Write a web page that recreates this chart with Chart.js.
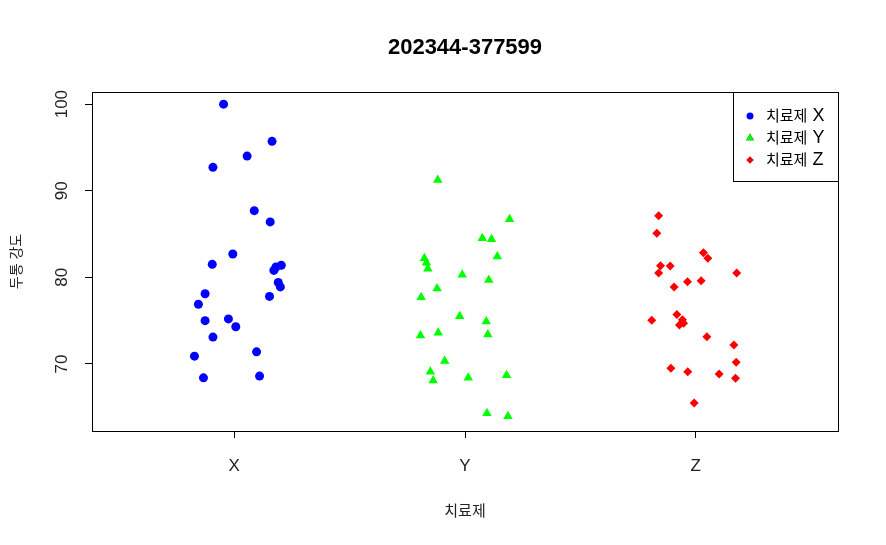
<!DOCTYPE html>
<html>
<head>
<meta charset="utf-8">
<script src="https://cdn.jsdelivr.net/npm/chart.js@4"></script>
<style>
  html, body { margin: 0; padding: 0; background: #fff; }
  #wrap { width: 886px; height: 545px; }
</style>
</head>
<body>
<div id="wrap"><canvas id="chart" width="886" height="545"></canvas></div>
<script>
const FONT = '"Liberation Sans", Arial, "Noto Sans CJK KR", sans-serif';

const chartTitle = '202344-377599';
const xTitle = '치료제';
const yTitle = '두통 강도';
const groups = ['X', 'Y', 'Z'];
const legendPrefix = '치료제';
const legendLabels = ['치료제 X', '치료제 Y', '치료제 Z'];
const yTicks = [70, 80, 90, 100];

// values, with the horizontal jitter of each point
const valuesX = [100.0, 95.7, 94.0, 92.7, 87.7, 86.4, 82.7, 81.5, 81.2, 81.4, 80.8, 79.4,
                 78.9, 78.1, 77.8, 76.9, 75.0, 75.2, 74.3, 73.1, 70.9, 71.4, 68.4, 68.6];
const jitterX = [-0.046, 0.164, 0.056, -0.092, 0.087, 0.156, -0.006, -0.095, 0.181, 0.204, 0.172, 0.191,
                 0.2, -0.126, 0.153, -0.155, -0.126, -0.025, 0.007, -0.092, -0.172, 0.097, -0.133, 0.110];

const valuesY = [91.25, 86.7, 84.5, 84.4, 82.4, 82.2, 81.7, 81.0, 80.3, 79.7, 78.7, 77.7,
                 75.5, 74.9, 73.3, 73.6, 73.4, 70.35, 69.1, 68.1, 68.4, 68.7, 64.3, 63.96];
const jitterY = [-0.118, 0.193, 0.075, 0.115, 0.140, -0.176, -0.167, -0.161, -0.012, 0.103, -0.121, -0.190,
                 -0.023, 0.092, -0.193, -0.116, 0.099, -0.088, -0.150, -0.138, 0.014, 0.18, 0.095, 0.186];

const valuesZ = [87.1, 85.1, 82.85, 82.2, 81.35, 81.3, 80.5, 80.5, 79.5, 79.6, 78.9, 75.05,
                 75.7, 75.1, 74.7, 74.5, 73.15, 72.2, 70.2, 69.5, 69.1, 68.85, 68.35, 65.5];
const jitterZ = [-0.161, -0.169, 0.033, 0.052, -0.153, -0.111, -0.161, 0.177, -0.036, 0.023, -0.094, -0.191,
                 -0.082, -0.058, -0.053, -0.071, 0.048, 0.165, 0.175, -0.108, -0.035, 0.101, 0.172, -0.007];

const colors = ['#0000FF', '#00FF00', '#FF0000'];
const styles = ['circle', 'triangle', 'rectRot'];
const radii = [4.5, 5.5, 4.5];

const toPoints = function (pos, values, jitter) {
    return values.map(function (v, i) {
        return { x: pos + jitter[i], y: v };
    });
};

const series = [
    toPoints(1, valuesX, jitterX),
    toPoints(2, valuesY, jitterY),
    toPoints(3, valuesZ, jitterZ)
];

const datasets = series.map(function (pts, i) {
    return {
        label: legendLabels[i],
        data: pts,
        backgroundColor: colors[i],
        borderColor: colors[i],
        borderWidth: 0,
        pointStyle: styles[i],
        pointRadius: radii[i],
        pointHoverRadius: radii[i]
    };
});

// R style decorations: box, title, axis titles, vertical y labels, legend
const rDecor = {
    id: 'rDecor',
    afterDraw: function (chart) {
        const ctx = chart.ctx;
        const a = chart.chartArea;
        const ys = chart.scales.y;
        ctx.save();
        ctx.strokeStyle = '#000';
        ctx.lineWidth = 1;
        ctx.strokeRect(Math.round(a.left) + 0.5, Math.round(a.top) + 0.5,
            Math.round(a.right - a.left), Math.round(a.bottom - a.top));

        ctx.fillStyle = '#000';
        ctx.textAlign = 'center';
        ctx.textBaseline = 'middle';
        ctx.font = 'bold 22px ' + FONT;
        ctx.fillText(chartTitle, (a.left + a.right) / 2, 48);

        ctx.font = '15px ' + FONT;
        ctx.fillStyle = '#222';
        ctx.fillText(xTitle, (a.left + a.right) / 2, 512);

        ctx.save();
        ctx.translate(17, (a.top + a.bottom) / 2);
        ctx.rotate(-Math.PI / 2);
        ctx.font = '14px ' + FONT;
        ctx.fillText(yTitle, 0, 0);
        ctx.restore();

        ctx.fillStyle = '#222';
        ctx.font = '17px ' + FONT;
        yTicks.forEach(function (t) {
            ctx.save();
            ctx.translate(62, ys.getPixelForValue(t));
            ctx.rotate(-Math.PI / 2);
            ctx.fillText(String(t), 0, 0);
            ctx.restore();
        });

        // legend box
        const lx = 733, ly = Math.round(a.top);
        const lw = Math.round(a.right) - lx, lh = 89;
        ctx.fillStyle = '#fff';
        ctx.fillRect(lx + 0.5, ly + 0.5, lw, lh);
        ctx.strokeStyle = '#000';
        ctx.strokeRect(lx + 0.5, ly + 0.5, lw, lh);
        ctx.textAlign = 'left';
        legendLabels.forEach(function (lab, i) {
            const cy = ly + 24 + i * 22;
            Chart.helpers.drawPoint(ctx, {
                pointStyle: styles[i],
                radius: radii[i] - 1,
                borderWidth: 0
            }, 750, cy);
            ctx.fillStyle = colors[i];
            ctx.fill();
            ctx.fillStyle = '#000';
            ctx.font = '15px ' + FONT;
            ctx.fillText(legendPrefix, 766, cy + 1);
            const w = ctx.measureText(legendPrefix).width;
            ctx.font = '18px ' + FONT;
            ctx.fillText(lab.slice(legendPrefix.length + 1), 766 + w + 5, cy);
        });
        ctx.restore();
    }
};

new Chart(document.getElementById('chart'), {
    type: 'scatter',
    data: { datasets: datasets },
    plugins: [rDecor],
    options: {
        responsive: false,
        animation: false,
        events: [],
        layout: { padding: { top: 92, right: 48, left: 0, bottom: 0 } },
        plugins: {
            legend: { display: false },
            title: { display: false },
            tooltip: { enabled: false }
        },
        scales: {
            x: {
                type: 'linear',
                min: 0.384,
                max: 3.616,
                afterFit: function (s) { s.height = 114; },
                afterBuildTicks: function (s) {
                    s.ticks = groups.map(function (g, i) { return { value: i + 1 }; });
                },
                grid: { display: true, drawOnChartArea: false, drawTicks: true, tickLength: 7, color: '#000' },
                border: { display: true, color: '#000' },
                ticks: {
                    color: '#222',
                    padding: 18,
                    font: { family: FONT, size: 17 },
                    callback: function (v) { return groups[Math.round(v) - 1]; }
                }
            },
            y: {
                type: 'linear',
                min: 62.26,
                max: 101.4,
                afterFit: function (s) { s.width = 92; },
                afterBuildTicks: function (s) {
                    s.ticks = yTicks.map(function (t) { return { value: t }; });
                },
                grid: { display: true, drawOnChartArea: false, drawTicks: true, tickLength: 7, color: '#000' },
                border: { display: true, color: '#000' },
                ticks: { display: false }
            }
        }
    }
});
</script>
</body>
</html>
